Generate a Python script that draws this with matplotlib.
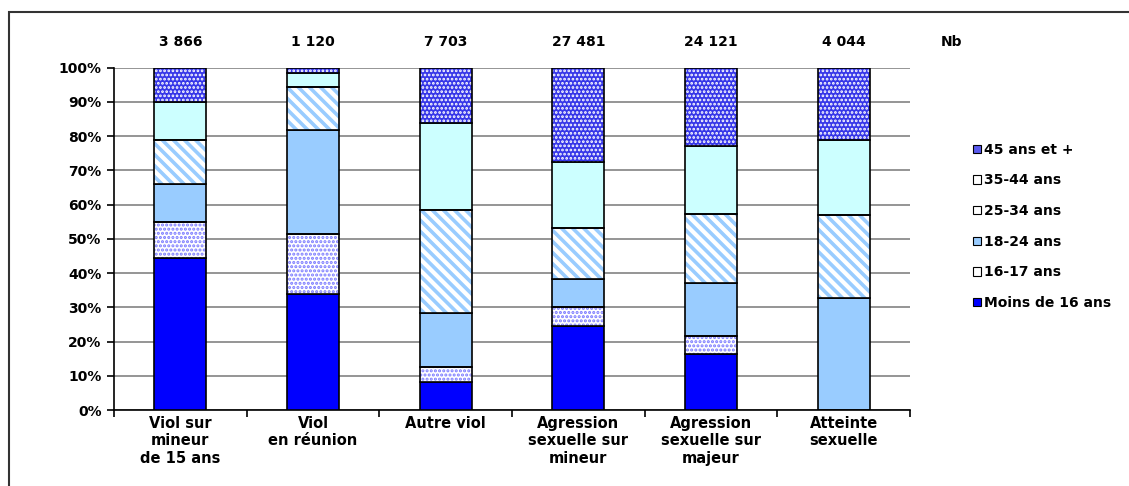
import numpy as np
import matplotlib
matplotlib.use("Agg")
import matplotlib.pyplot as plt
from matplotlib.patches import Patch, Rectangle

plt.rcParams['font.family'] = ['DejaVu Sans']
plt.rcParams['font.weight'] = 'bold'

# categories d'infractions et effectifs
categories = ["Viol sur\nmineur\nde 15 ans", "Viol\nen réunion", "Autre viol",
              "Agression\nsexuelle sur\nmineur", "Agression\nsexuelle sur\nmajeur",
              "Atteinte\nsexuelle"]
effectifs = ["3 866", "1 120", "7 703", "27 481", "24 121", "4 044"]

# parts (%) par tranche d'age, du bas vers le haut
moins16 = [44.5, 33.9, 8.1, 24.6, 16.4, 0.0]
ans16_17 = [10.3, 17.6, 4.4, 5.4, 5.3, 0.0]
ans18_24 = [11.2, 30.3, 16.0, 8.4, 15.3, 32.6]
ans25_34 = [12.8, 12.4, 29.9, 14.8, 20.2, 24.5]
ans35_44 = [11.2, 4.1, 25.3, 19.1, 19.9, 21.7]
ans45 = [10.0, 1.7, 16.3, 27.7, 22.9, 21.2]

labels = ["Moins de 16 ans", "16-17 ans", "18-24 ans", "25-34 ans", "35-44 ans", "45 ans et +"]
series = [moins16, ans16_17, ans18_24, ans25_34, ans35_44, ans45]

# (fond, couleur du motif, motif, epaisseur du motif)
styles = [
    ("#0000ff", None, None, 0),
    ("#ffffff", "#7a7aff", "....", 1.5),
    ("#99ccff", None, None, 0),
    ("#ffffff", "#99ccff", "\\\\\\", 2.6),
    ("#ccffff", None, None, 0),
    ("#3636e8", "#ffffff", "....", 1.3),
]
legend_faces = ["#0000ff", "#ffffff", "#99ccff", "#ffffff", "#ffffff", "#5a5aee"]

fig = plt.figure(figsize=(11.29, 4.86), dpi=100)
ax = fig.add_axes([0.101, 0.156, 0.705, 0.705])

x = np.arange(len(categories))
w = 0.39
bottom = np.zeros(len(categories))
for vals, (face, hcol, hatch, hlw) in zip(series, styles):
    vals = np.array(vals)
    if hatch:
        with plt.rc_context({'hatch.linewidth': hlw}):
            ax.bar(x, vals, w, bottom=bottom, color=face, edgecolor=hcol,
                   hatch=hatch, linewidth=0, zorder=3)
        ax.bar(x, vals, w, bottom=bottom, fill=False, edgecolor="black",
               linewidth=1.2, zorder=4)
    else:
        ax.bar(x, vals, w, bottom=bottom, color=face, edgecolor="black",
               linewidth=1.2, zorder=3)
    bottom += vals

ax.set_xlim(-0.5, len(categories) - 0.5)
ax.set_ylim(0, 100)
ax.set_yticks(np.arange(0, 101, 10))
ax.set_yticklabels([f"{v}%" for v in range(0, 101, 10)], fontsize=10)
ax.yaxis.grid(True, color="#8c8c8c", linewidth=1.3, zorder=0)
ax.set_xticks(x)
ax.set_xticklabels(categories, fontsize=10.5, linespacing=1.2)
ax.tick_params(axis="x", length=0, pad=4)
ax.set_xticks(np.arange(-0.5, len(categories) + 0.5, 1), minor=True)
ax.tick_params(axis="x", which="minor", length=5, width=1.2, direction="out")
ax.tick_params(axis="y", length=5, width=1.2, direction="out", pad=4)
for s in ["top", "right"]:
    ax.spines[s].set_visible(False)
for s in ["left", "bottom"]:
    ax.spines[s].set_linewidth(1.2)

# effectifs au-dessus des barres
for xi, n in zip(x, effectifs):
    ax.text(xi, 1.074, n, transform=ax.get_xaxis_transform(), ha="center",
            va="center", fontsize=10, fontweight="bold")
fig.text(952 / 1129, 1 - 42 / 486, "Nb", ha="center", va="center",
         fontsize=10, fontweight="bold")

handles = [Patch(facecolor=f, edgecolor="black", linewidth=0.8) for f in legend_faces]
fig.legend(handles[::-1], labels[::-1], loc="upper left",
           bbox_to_anchor=(0.857, 0.718), frameon=False, fontsize=10,
           handlelength=0.55, handleheight=0.55, handletextpad=0.25,
           labelspacing=1.2, borderaxespad=0)

# cadre exterieur
fig.patches.append(Rectangle((9 / 1129, -0.05), 1.1, 1 - 12 / 486 + 0.05,
                             transform=fig.transFigure, fill=False,
                             edgecolor="#333333", linewidth=1.5))

fig.savefig("out.png", dpi=100)
